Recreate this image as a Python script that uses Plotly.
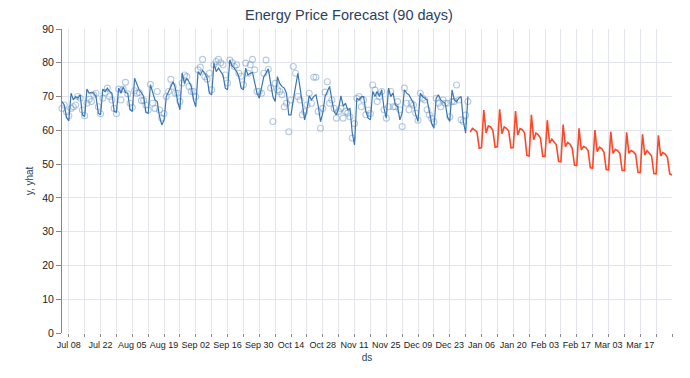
import pandas as pd
import plotly.graph_objects as go

# ---- data ----
hist_start = "2018-07-05"
fcst_start = "2019-01-01"

tick_dates = ["2018-07-08", "2018-07-22", "2018-08-05", "2018-08-19", "2018-09-02",
              "2018-09-16", "2018-09-30", "2018-10-14", "2018-10-28", "2018-11-11",
              "2018-11-25", "2018-12-09", "2018-12-23", "2019-01-06", "2019-01-20",
              "2019-02-03", "2019-02-17", "2019-03-03", "2019-03-17"]
tick_labels = ["Jul 08", "Jul 22", "Aug 05", "Aug 19", "Sep 02", "Sep 16", "Sep 30",
               "Oct 14", "Oct 28", "Nov 11", "Nov 25", "Dec 09", "Dec 23", "Jan 06",
               "Jan 20", "Feb 03", "Feb 17", "Mar 03", "Mar 17"]

yhat_hist = [
    68.5, 67.5, 63.8, 62.8,
    71.0, 69.0, 70.0, 69.5, 70.5, 64.6, 64.1,
    72.2, 71.0, 71.2, 71.0, 70.0, 65.1, 64.6,
    72.2, 71.4, 72.5, 71.5, 71.0, 65.6, 65.3,
    72.5, 71.0, 72.8, 71.2, 71.0, 66.1, 65.6,
    75.4, 73.5, 72.0, 71.2, 70.0, 65.3, 65.0,
    73.5, 71.5, 69.0, 68.5, 64.1, 61.6, 63.0,
    70.0, 71.5, 73.0, 74.4, 72.5, 68.5, 66.1,
    76.9, 73.9, 75.4, 74.4, 73.0, 69.0, 67.0,
    77.4, 76.4, 77.7, 76.9, 75.4, 71.0, 70.5,
    79.9, 77.4, 78.4, 77.4, 76.4, 72.5, 72.0,
    80.8, 79.1, 78.4, 77.4, 75.9, 72.5, 72.0,
    78.4, 76.4, 76.9, 77.1, 73.9, 71.0, 69.5,
    72.5, 75.9, 77.0, 78.2, 74.0, 70.0, 68.5,
    75.9, 73.9, 73.0, 72.5, 71.0, 64.6, 64.6,
    69.0, 73.0, 76.9, 72.5, 67.0, 63.1, 66.1,
    70.2, 69.0, 70.0, 70.5, 67.2, 62.6, 65.1,
    70.0, 71.5, 73.0, 69.0, 65.5, 64.6, 66.5,
    70.2, 67.2, 68.0, 66.1, 66.5, 59.2, 55.7,
    69.5, 69.0, 70.0, 70.0, 65.6, 63.6, 63.1,
    71.5, 70.0, 71.5, 70.0, 72.0, 66.5, 63.6,
    72.5, 70.0, 71.0, 67.5, 67.0, 63.1, 65.1,
    72.0, 71.0, 70.5, 69.0, 68.0, 64.6, 62.6,
    71.0, 70.0, 69.5, 69.0, 65.6, 62.1, 60.6,
    69.5, 70.5, 69.0, 68.5, 68.0, 64.0, 62.6,
    72.0, 69.0, 68.5, 69.5, 70.0, 62.6, 59.2,
    70.0,
]

y_actual = [
    66.5, 67.5, 65.5, 64.3,
    66.5, 67.0, 67.5, 70.0, 69.5, 66.0, 64.3,
    68.0, 69.2, 68.5, 70.5, 71.0, 67.0, 64.9,
    69.5, 71.2, 72.5, 70.0, 69.0, 66.5, 64.9,
    72.2, 69.0, 72.2, 74.2, 70.8, 68.0, 66.8,
    71.7, 71.0, 71.2, 68.8, 68.8, 67.5, 66.0,
    73.6, 68.0, 66.5, 71.5, 66.0, 63.6, 65.0,
    70.0, 71.5, 75.1, 73.0, 71.0, 71.0, 68.5,
    74.0, 76.4, 75.9, 73.0, 71.5, 71.5, 70.0,
    77.9, 78.7, 81.0, 75.9, 75.1, 76.9, 72.0,
    79.4, 80.4, 81.0, 80.0, 79.4, 76.4, 74.0,
    80.8, 80.0, 78.9, 79.4, 76.9, 76.0, 73.5,
    79.9, 76.9, 79.4, 81.0, 77.9, 71.5, 71.5,
    71.0, 76.9, 80.8, 78.1, 72.5, 62.6, 73.9,
    72.0, 71.5, 70.5, 67.0, 68.0, 59.6, 69.0,
    78.9, 76.9, 70.0, 69.0, 64.6, 65.5, 67.5,
    71.0, 68.0, 75.7, 75.7, 65.6, 60.6, 66.5,
    71.3, 74.4, 68.0, 69.0, 66.5, 63.6, 65.6,
    66.5, 63.6, 65.6, 65.1, 64.0, 57.7, 62.0,
    69.5, 70.0, 67.0, 69.0, 64.6, 66.0, 65.0,
    73.4, 71.9, 68.5, 70.0, 71.5, 66.1, 63.6,
    67.0, 71.5, 67.0, 67.0, 68.5, 66.0, 61.1,
    72.5, 68.0, 66.1, 68.0, 67.5, 65.1, 63.0,
    71.0, 69.5, 69.0, 66.1, 64.6, 63.5, 62.5,
    69.5, 68.0, 67.0, 69.0, 68.0, 68.0, 64.0,
    68.5, 68.5, 73.4, 69.0, 63.1, 62.6, 64.5,
    68.5,
]

yhat_fcst = [
    59.5, 60.6, 60.1, 59.5, 54.7, 54.9,
    66.0, 59.2, 61.3, 61.0, 60.0, 55.0, 55.2,
    66.2, 59.0, 61.0, 60.6, 59.8, 54.8, 54.9,
    65.7, 58.6, 60.5, 60.2, 59.2, 52.6, 52.4,
    64.6, 57.2, 59.2, 58.7, 57.7, 52.3, 52.3,
    63.0, 56.2, 57.4, 56.7, 55.7, 50.8, 50.7,
    61.7, 55.2, 56.4, 55.9, 54.7, 49.7, 49.6,
    60.6, 54.2, 55.2, 54.9, 54.0, 48.9, 48.8,
    60.1, 53.7, 55.0, 54.6, 53.5, 48.4, 48.3,
    59.6, 53.2, 54.4, 54.0, 53.2, 48.1, 48.1,
    59.4, 53.2, 54.0, 53.6, 52.8, 47.6, 47.5,
    58.8, 52.7, 54.0, 53.2, 52.4, 47.2, 47.1,
    58.5, 52.4, 53.4, 53.0, 52.0, 47.1, 46.8,
]

ds_hist = pd.date_range(hist_start, periods=len(yhat_hist), freq="D")
ds_fcst = pd.date_range(fcst_start, periods=len(yhat_fcst), freq="D")

FONT = "Liberation Sans, Arial, Helvetica, sans-serif"
GRID = "#e2e6ec"

fig = go.Figure()
fig.add_trace(go.Scatter(
    x=ds_hist, y=y_actual, mode="markers", name="y",
    marker=dict(symbol="circle-open", size=6, color="rgba(80,130,185,0.42)",
                line=dict(width=1.1)),
    cliponaxis=False,
))
fig.add_trace(go.Scatter(
    x=ds_hist, y=yhat_hist, mode="lines", name="yhat",
    line=dict(color="#3a76b2", width=1.2),
))
fig.add_trace(go.Scatter(
    x=ds_fcst, y=yhat_fcst, mode="lines", name="forecast",
    line=dict(color="#ff4726", width=1.6),
))

# the page body adds an 8px offset; size the figure so the plot area lands where the reference's does
fig.update_layout(
    width=682, height=370,
    margin=dict(l=54, r=18, t=21, b=45),
    paper_bgcolor="white", plot_bgcolor="white",
    showlegend=False,
    font=dict(family=FONT, size=10, color="#222"),
    title=dict(text="Energy Price Forecast (90 days)", x=0.5, xanchor="center",
               y=0.98, yanchor="middle",
               font=dict(family=FONT, size=14.5, color="#2a3f5f")),
)
fig.update_xaxes(
    range=[ds_hist[0], ds_fcst[-1]],
    type="date",
    tickmode="array", tickvals=tick_dates, ticktext=tick_labels, tickangle=0,
    ticks="outside", ticklen=3, tickcolor="#888",
    showgrid=True, gridcolor=GRID, gridwidth=1,
    minor=dict(dtick=7 * 86400000, tick0="2018-07-08", ticks="outside",
               ticklen=3, tickcolor="#888", showgrid=True, gridcolor=GRID),
    showline=False, zeroline=False,
    title=dict(text="ds", font=dict(size=10, color="#2a3f5f"), standoff=5),
    tickfont=dict(size=9, color="#222"),
)
fig.update_yaxes(
    range=[0, 90], dtick=10,
    ticks="outside", ticklen=5, tickcolor="#888",
    showline=True, linecolor="#888", linewidth=1,
    showgrid=True, gridcolor=GRID, zeroline=False,
    title=dict(text="y, yhat", font=dict(size=10, color="#2a3f5f"), standoff=6),
    tickfont=dict(size=10.5, color="#222"),
)

fig.write_html("out.html")
